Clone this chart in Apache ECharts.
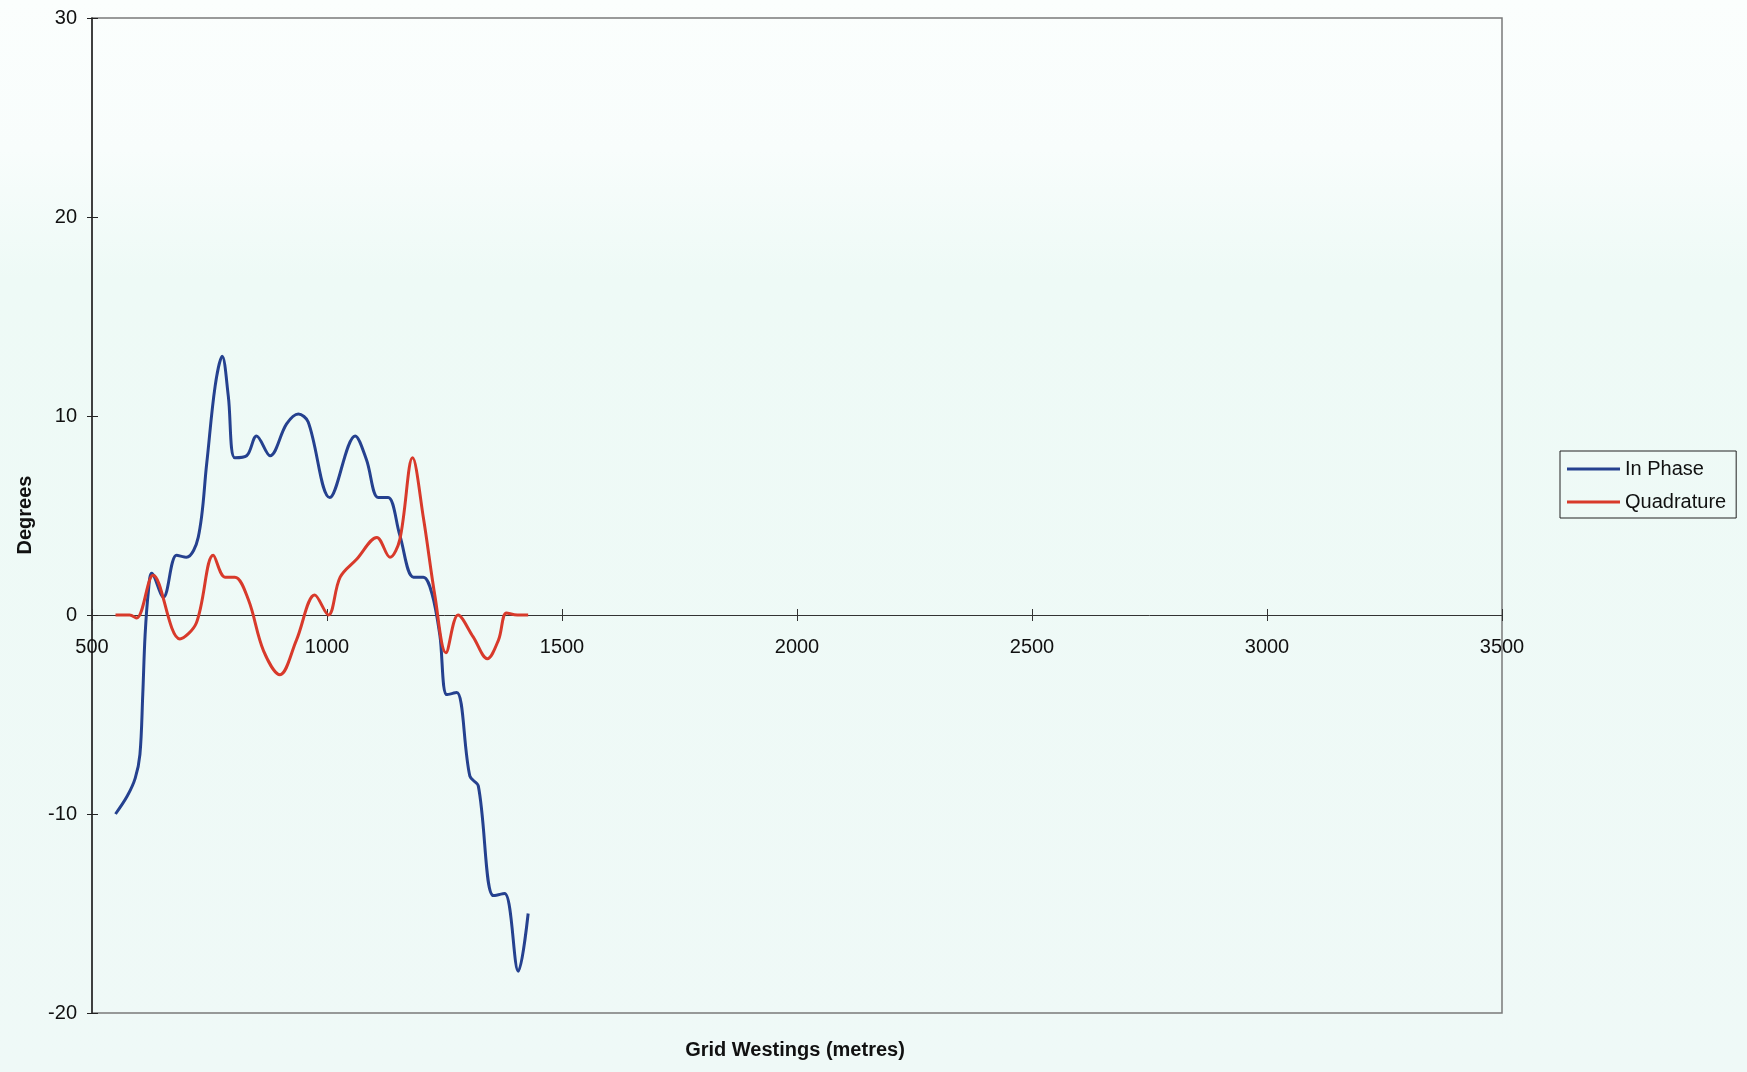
<!DOCTYPE html>
<html>
<head>
<meta charset="utf-8">
<title>In Phase / Quadrature profile</title>
<script src="https://cdn.jsdelivr.net/npm/echarts@6/dist/echarts.min.js"></script>
<style>
  html, body { margin: 0; padding: 0; }
  body {
    width: 1747px; height: 1072px; overflow: hidden;
    background: linear-gradient(180deg, #fbfefd 0%, #f8fdfc 14%, #eefaf6 26%, #eff9f7 100%);
  }
  #chart { width: 1747px; height: 1072px; }
</style>
</head>
<body>
<div id="chart"></div>
<script>
// Survey profile: grid westing (m) against phase angle (degrees)
const inPhaseX = [550, 575, 592, 602, 608, 613, 620, 627, 652, 680, 701, 726, 744, 762, 777, 790, 804, 829, 850, 879, 914, 939, 960, 1006, 1060, 1084, 1109, 1130, 1155, 1184, 1205, 1223, 1240, 1255, 1276, 1304, 1322, 1354, 1378, 1407, 1428];
const inPhaseY = [-10.0, -9.1, -8.2, -7.0, -4.0, -1.0, 1.2, 2.1, 0.9, 3.0, 2.9, 3.9, 7.6, 11.5, 13.0, 11.0, 7.9, 8.0, 9.0, 8.0, 9.6, 10.1, 9.7, 5.9, 9.0, 7.8, 5.9, 5.9, 4.0, 1.9, 1.9, 1.1, -1.0, -4.0, -3.9, -8.1, -8.6, -14.1, -14.0, -17.9, -15.0];

const quadX = [550, 580, 595, 630, 687, 722, 758, 783, 804, 833, 865, 900, 935, 974, 1003, 1028, 1063, 1106, 1134, 1155, 1182, 1205, 1230, 1253, 1279, 1311, 1341, 1365, 1382, 1405, 1428];
const quadY = [0.0, 0.0, -0.15, 2.0, -1.2, -0.4, 3.0, 1.9, 1.9, 0.75, -1.8, -3.0, -1.26, 1.0, 0.0, 1.9, 2.8, 3.9, 2.9, 3.8, 7.9, 4.9, 0.9, -1.9, 0.0, -1.1, -2.2, -1.25, 0.1, 0.0, 0.0];

const xTicks = { min: 500, max: 3500, step: 500 };
const yTicks = { min: -20, max: 30, step: 10 };

const seriesNames = ['In Phase', 'Quadrature'];
const seriesColors = ['#25418f', '#d83a2b'];

const pairs = (xs, ys) => xs.map((x, i) => [x, ys[i]]);

const FONT = '"Liberation Sans", Arial, sans-serif';
const labelStyle = { color: '#111', fontFamily: FONT, fontSize: 20 };

// plot box, and the shift that lifts the category axis onto the y = 0 line
const CHART_H = 1072;
const gridBox = { left: 92, right: 245, top: 18, bottom: 59 };
const plotH = CHART_H - gridBox.top - gridBox.bottom;
const zeroLift = -plotH * (0 - yTicks.min) / (yTicks.max - yTicks.min);

const chart = echarts.init(document.getElementById('chart'), null, { renderer: 'canvas' });

chart.setOption({
  backgroundColor: 'transparent',
  animation: false,
  grid: Object.assign({
    show: true, borderColor: '#7a7a7a', borderWidth: 1.5, backgroundColor: 'transparent'
  }, gridBox),
  xAxis: [
    {
      type: 'value', position: 'bottom', offset: zeroLift,
      min: xTicks.min, max: xTicks.max, interval: xTicks.step,
      axisLine: { show: true, onZero: false, lineStyle: { color: '#333', width: 1 } },
      axisTick: { show: true, inside: false, length: 6, lineStyle: { color: '#333' } },
      axisLabel: Object.assign({
        margin: 22, showMinLabel: true, showMaxLabel: true,
        formatter: v => String(v)
      }, labelStyle),
      splitLine: { show: false }
    },
    {
      type: 'value', position: 'bottom', offset: zeroLift,
      min: xTicks.min, max: xTicks.max, interval: xTicks.step,
      axisLine: { show: false, onZero: false },
      axisTick: { show: true, inside: true, length: 6, lineStyle: { color: '#333' } },
      axisLabel: { show: false },
      splitLine: { show: false }
    }
  ],
  yAxis: [
    {
      type: 'value', position: 'left', offset: 0,
      min: yTicks.min, max: yTicks.max, interval: yTicks.step,
      axisLine: { show: true, onZero: false, lineStyle: { color: '#222', width: 1.5 } },
      axisTick: { show: true, inside: false, length: 5, lineStyle: { color: '#222' } },
      axisLabel: Object.assign({ margin: 15, formatter: v => String(v) }, labelStyle),
      splitLine: { show: false }
    },
    {
      type: 'value', position: 'left', offset: 0,
      min: yTicks.min, max: yTicks.max, interval: yTicks.step,
      axisLine: { show: false, onZero: false },
      axisTick: { show: true, inside: true, length: 6, lineStyle: { color: '#222' } },
      axisLabel: { show: false },
      splitLine: { show: false }
    }
  ],
  legend: {
    left: 1560, top: 451,
    orient: 'vertical',
    data: seriesNames,
    icon: 'rect', itemWidth: 53, itemHeight: 3, itemGap: 13,
    padding: [8, 10, 6, 7],
    backgroundColor: 'transparent',
    borderColor: '#222', borderWidth: 1,
    textStyle: { color: '#111', fontFamily: FONT, fontSize: 20 }
  },
  graphic: [
    {
      type: 'text', x: 795, y: 1050,
      style: {
        text: 'Grid Westings (metres)', fill: '#111',
        font: 'bold 20px ' + FONT, textAlign: 'center', textVerticalAlign: 'middle'
      }
    },
    {
      type: 'text', x: 25, y: 515, rotation: Math.PI / 2,
      style: {
        text: 'Degrees', fill: '#111',
        font: 'bold 20px ' + FONT, textAlign: 'center', textVerticalAlign: 'middle'
      }
    }
  ],
  series: [
    {
      name: seriesNames[0], type: 'line', xAxisIndex: 0, yAxisIndex: 0,
      data: pairs(inPhaseX, inPhaseY),
      smooth: 0.35, showSymbol: false, symbol: 'none',
      lineStyle: { color: seriesColors[0], width: 3 },
      itemStyle: { color: seriesColors[0] }
    },
    {
      name: seriesNames[1], type: 'line', xAxisIndex: 0, yAxisIndex: 0,
      data: pairs(quadX, quadY),
      smooth: 0.35, showSymbol: false, symbol: 'none',
      lineStyle: { color: seriesColors[1], width: 3 },
      itemStyle: { color: seriesColors[1] }
    }
  ]
});
</script>
</body>
</html>
